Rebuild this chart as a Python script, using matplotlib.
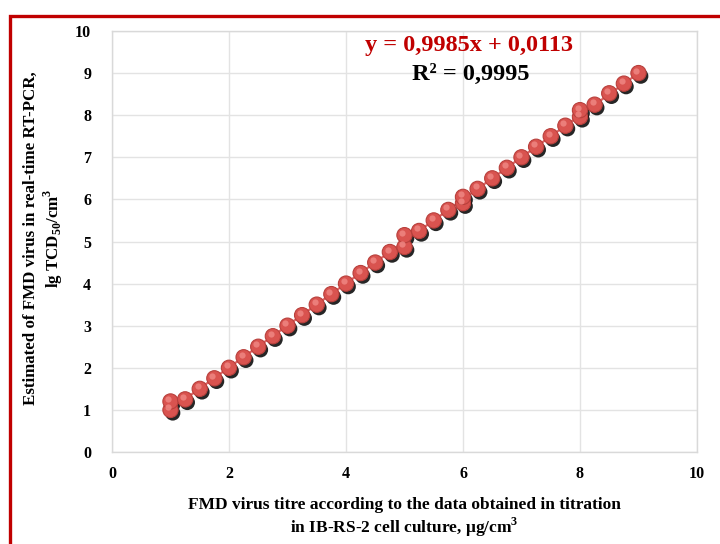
import matplotlib
matplotlib.use("Agg")
import matplotlib.pyplot as plt
import matplotlib.patheffects as pe
import matplotlib.transforms as mtransforms
from matplotlib.patches import Rectangle
import numpy as np

# Data
x_vals = [1.0, 1.0, 1.25, 1.5, 1.75, 2.0, 2.25, 2.5, 2.75, 3.0, 3.25, 3.5, 3.75,
          4.0, 4.25, 4.5, 4.75, 5.0, 5.0, 5.25, 5.5, 5.75, 6.0, 6.0, 6.25, 6.5,
          6.75, 7.0, 7.25, 7.5, 7.75, 8.0, 8.0, 8.25, 8.5, 8.75, 9.0]
y_vals = [1.0, 1.2, 1.25, 1.5, 1.75, 2.0, 2.25, 2.5, 2.75, 3.0, 3.25, 3.5, 3.75,
          4.0, 4.25, 4.5, 4.75, 4.87, 5.15, 5.25, 5.5, 5.75, 5.91, 6.06, 6.25, 6.5,
          6.75, 7.0, 7.25, 7.5, 7.75, 7.96, 8.12, 8.25, 8.52, 8.75, 9.0]
slope = 0.9985
intercept = 0.0113
eq_text = "y = 0,9985x + 0,0113"
r2_text = "R² = 0,9995"
x_ticks = [0, 2, 4, 6, 8, 10]
y_ticks = [0, 1, 2, 3, 4, 5, 6, 7, 8, 9, 10]
xlabel = "FMD virus titre according to the data obtained in titration\nin IB-RS-2 cell culture, μg/cm$^\\mathbf{3}$"
ylabel = "Estimated of FMD virus in real-time RT-PCR,\nlg TCD$_\\mathbf{50}$/cm$^\\mathbf{3}$"

plt.rcParams['font.family'] = ['Liberation Serif', 'DejaVu Serif']
plt.rcParams['mathtext.fontset'] = 'custom'
plt.rcParams['mathtext.rm'] = 'Liberation Serif:bold'
plt.rcParams['mathtext.bf'] = 'Liberation Serif:bold'

fig = plt.figure(figsize=(7.2, 5.44), dpi=100)
ax = fig.add_axes([112/720, 1-452/544, (697-112)/720, (452-31)/544])

ax.set_xlim(0, 10)
ax.set_ylim(0, 10)
ax.set_xticks(x_ticks)
ax.set_yticks(y_ticks)
ax.grid(True, color='#e3e3e3', linewidth=1.0)
ax.set_axisbelow(True)
for s in ax.spines.values():
    s.set_color('#d9d9d9')
    s.set_linewidth(1.0)
ax.tick_params(length=0, labelsize=11.5)
ax.tick_params(axis='x', pad=10)
ax.tick_params(axis='y', pad=15)
for lbl in ax.get_xticklabels() + ax.get_yticklabels():
    lbl.set_fontweight('bold')

# trendline
xs = np.array([min(x_vals), max(x_vals)])
ax.plot(xs, slope * xs + intercept, color='#e06666', linewidth=1.6, zorder=2)

# markers with shadow
ax.plot(x_vals, y_vals, linestyle='none', marker='o', markersize=11,
        markerfacecolor='#d9534f', markeredgecolor='#b8403c', markeredgewidth=0.8,
        zorder=3,
        path_effects=[pe.SimplePatchShadow(offset=(1.6, -2.2), shadow_rgbFace='black', alpha=0.85),
                      pe.Normal()])
# highlight
hl = mtransforms.offset_copy(ax.transData, fig=fig, x=-1.5, y=1.8, units='points')
ax.plot(x_vals, y_vals, linestyle='none', marker='o', markersize=4.5,
        markerfacecolor='#f08a86', markeredgecolor='none', alpha=0.8,
        transform=hl, zorder=4)

ax.text(469/720, 1-46/544, eq_text, transform=fig.transFigure, ha='center', va='center',
        color='#c00000', fontsize=17.5, fontweight='bold')
ax.text(471/720, 1-74/544, r2_text, transform=fig.transFigure, ha='center', va='center',
        color='black', fontsize=17.5, fontweight='bold')

fig.text(404/720, 1-518/544, xlabel, ha='center', va='center', fontsize=12.5,
         fontweight='bold', linespacing=1.2)
fig.text(44/720, 1-238/544, ylabel, ha='center', va='center', rotation=90,
         fontsize=12.2, fontweight='bold', linespacing=1.2)

rect = Rectangle((9.5/720, -0.1), 1.2, 1 - 15.5/544 + 0.1, transform=fig.transFigure,
                 fill=False, edgecolor='#c00000', linewidth=2.4, clip_on=False)
fig.add_artist(rect)

fig.savefig('out.png', dpi=100)
